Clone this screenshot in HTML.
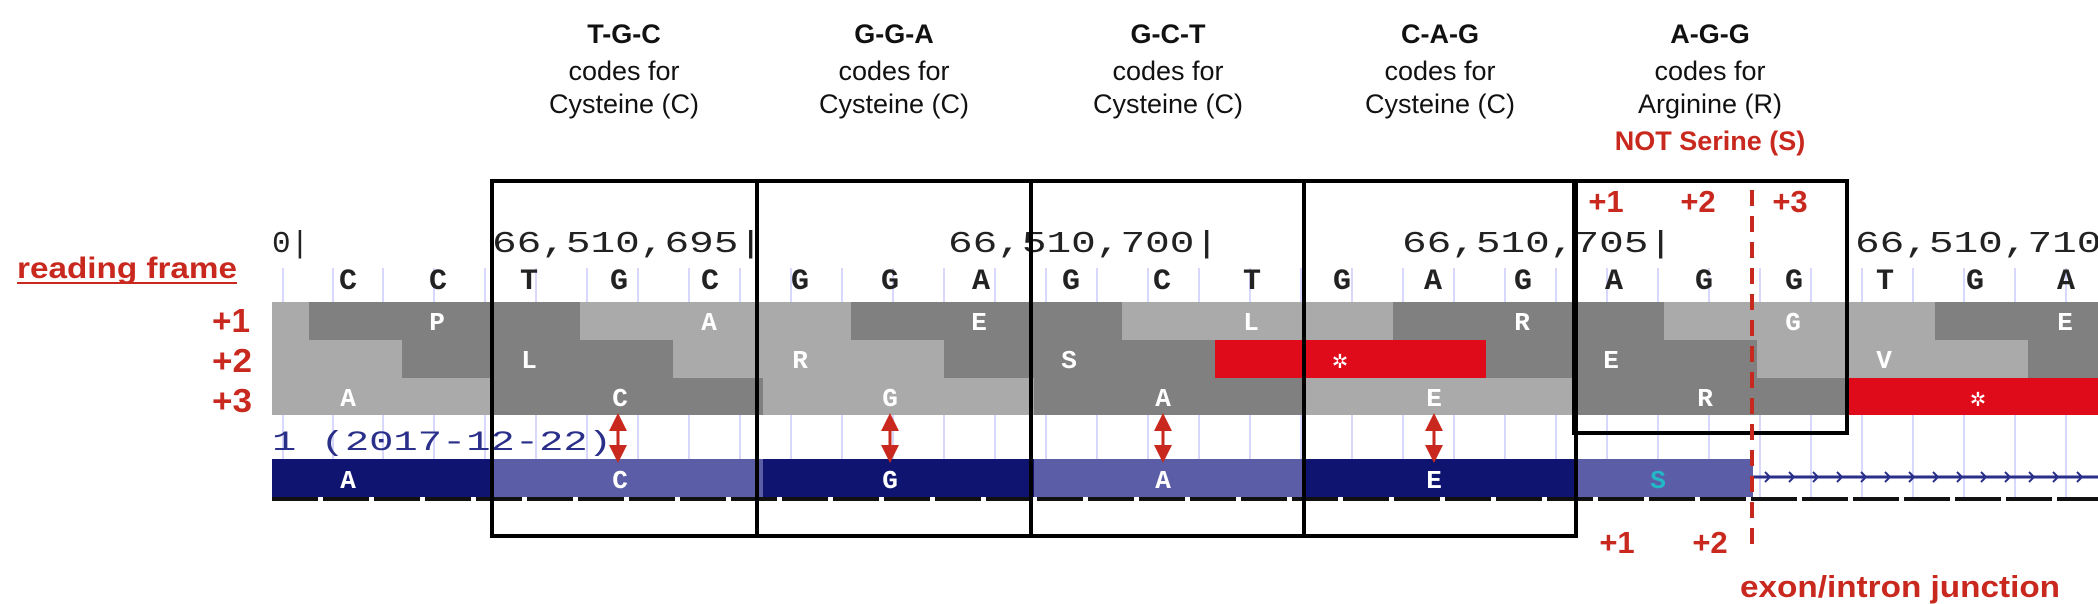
<!DOCTYPE html>
<html><head><meta charset="utf-8"><style>
html,body{margin:0;padding:0;background:#fff;}
svg{display:block;}
.h{font-family:"Liberation Sans",sans-serif;font-size:27px;fill:#111;text-anchor:middle;}
.hb{font-weight:bold;}
.r{font-family:"Liberation Sans",sans-serif;font-weight:bold;fill:#c8281e;}
.m{font-family:"Liberation Mono",monospace;}
.aa{font-family:"Liberation Mono",monospace;font-size:26px;fill:#fff;text-anchor:middle;font-weight:bold;}
</style></head><body>
<svg width="2098" height="604" viewBox="0 0 2098 604" xmlns="http://www.w3.org/2000/svg">
<defs>
<marker id="ah" markerWidth="6" markerHeight="6" refX="3" refY="3" orient="auto-start-reverse"><path d="M0,0 L6,3 L0,6 z" fill="#c8281e"/></marker>
</defs>
<g class="h">
<text x="624" y="43" class="hb">T-G-C</text><text x="624" y="80">codes for</text><text x="624" y="113">Cysteine (C)</text>
<text x="894" y="43" class="hb">G-G-A</text><text x="894" y="80">codes for</text><text x="894" y="113">Cysteine (C)</text>
<text x="1168" y="43" class="hb">G-C-T</text><text x="1168" y="80">codes for</text><text x="1168" y="113">Cysteine (C)</text>
<text x="1440" y="43" class="hb">C-A-G</text><text x="1440" y="80">codes for</text><text x="1440" y="113">Cysteine (C)</text>
<text x="1710" y="43" class="hb">A-G-G</text><text x="1710" y="80">codes for</text><text x="1710" y="113">Arginine (R)</text>
</g>
<text x="1710" y="150" class="r" font-size="27" text-anchor="middle">NOT Serine (S)</text>

<g stroke="#d8d8ff" stroke-width="2">
<line x1="283" y1="268" x2="283" y2="500"/><line x1="333" y1="268" x2="333" y2="500"/><line x1="383" y1="268" x2="383" y2="500"/><line x1="434" y1="268" x2="434" y2="500"/><line x1="485" y1="268" x2="485" y2="500"/><line x1="536" y1="268" x2="536" y2="500"/><line x1="587" y1="268" x2="587" y2="500"/><line x1="638" y1="268" x2="638" y2="500"/><line x1="689" y1="268" x2="689" y2="500"/><line x1="740" y1="268" x2="740" y2="500"/><line x1="791" y1="268" x2="791" y2="500"/><line x1="842" y1="268" x2="842" y2="500"/><line x1="893" y1="268" x2="893" y2="500"/><line x1="944" y1="268" x2="944" y2="500"/><line x1="995" y1="268" x2="995" y2="500"/><line x1="1046" y1="268" x2="1046" y2="500"/><line x1="1097" y1="268" x2="1097" y2="500"/><line x1="1148" y1="268" x2="1148" y2="500"/><line x1="1199" y1="268" x2="1199" y2="500"/><line x1="1250" y1="268" x2="1250" y2="500"/><line x1="1301" y1="268" x2="1301" y2="500"/><line x1="1352" y1="268" x2="1352" y2="500"/><line x1="1403" y1="268" x2="1403" y2="500"/><line x1="1454" y1="268" x2="1454" y2="500"/><line x1="1505" y1="268" x2="1505" y2="500"/><line x1="1556" y1="268" x2="1556" y2="500"/><line x1="1607" y1="268" x2="1607" y2="500"/><line x1="1658" y1="268" x2="1658" y2="500"/><line x1="1709" y1="268" x2="1709" y2="500"/><line x1="1760" y1="268" x2="1760" y2="500"/><line x1="1811" y1="268" x2="1811" y2="500"/><line x1="1862" y1="268" x2="1862" y2="500"/><line x1="1913" y1="268" x2="1913" y2="500"/><line x1="1964" y1="268" x2="1964" y2="500"/><line x1="2015" y1="268" x2="2015" y2="500"/><line x1="2066" y1="268" x2="2066" y2="500"/>
</g>

<g class="m" font-size="31" fill="#222">
<text x="272" y="252">0|</text>
<text x="492" y="252" textLength="271" lengthAdjust="spacingAndGlyphs">66,510,695|</text>
<text x="948" y="252" textLength="271" lengthAdjust="spacingAndGlyphs">66,510,700|</text>
<text x="1402" y="252" textLength="271" lengthAdjust="spacingAndGlyphs">66,510,705|</text>
<text x="1855" y="252" textLength="271" lengthAdjust="spacingAndGlyphs">66,510,710|</text>
</g>
<g class="m" font-size="30" fill="#222" text-anchor="middle" font-weight="bold">
<text x="348" y="289">C</text><text x="438" y="289">C</text><text x="529" y="289">T</text><text x="619" y="289">G</text><text x="710" y="289">C</text><text x="800" y="289">G</text><text x="890" y="289">G</text><text x="981" y="289">A</text><text x="1071" y="289">G</text><text x="1162" y="289">C</text><text x="1252" y="289">T</text><text x="1342" y="289">G</text><text x="1433" y="289">A</text><text x="1523" y="289">G</text><text x="1614" y="289">A</text><text x="1704" y="289">G</text><text x="1794" y="289">G</text><text x="1885" y="289">T</text><text x="1975" y="289">G</text><text x="2066" y="289">A</text>
</g>

<g>
<rect x="272" y="302" width="1826" height="38" fill="#808080"/>
<rect x="272" y="302" width="37" height="38" fill="#aaa"/>
<rect x="580" y="302" width="271" height="38" fill="#aaa"/>
<rect x="1122" y="302" width="271" height="38" fill="#aaa"/>
<rect x="1664" y="302" width="271" height="38" fill="#aaa"/>

<rect x="272" y="340" width="1826" height="38" fill="#808080"/>
<rect x="272" y="340" width="130" height="38" fill="#aaa"/>
<rect x="673" y="340" width="271" height="38" fill="#aaa"/>
<rect x="1215" y="340" width="271" height="38" fill="#e00b1a"/>
<rect x="1757" y="340" width="271" height="38" fill="#aaa"/>

<rect x="272" y="378" width="1826" height="37" fill="#808080"/>
<rect x="272" y="378" width="220" height="37" fill="#aaa"/>
<rect x="763" y="378" width="271" height="37" fill="#aaa"/>
<rect x="1305" y="378" width="271" height="37" fill="#aaa"/>
<rect x="1847" y="378" width="251" height="37" fill="#e00b1a"/>
</g>
<g class="aa">
<text x="437" y="330">P</text><text x="709" y="330">A</text><text x="979" y="330">E</text><text x="1251" y="330">L</text><text x="1522" y="330">R</text><text x="1793" y="330">G</text><text x="2065" y="330">E</text>
<text x="529" y="368">L</text><text x="800" y="368">R</text><text x="1069" y="368">S</text><text x="1340" y="368">✲</text><text x="1611" y="368">E</text><text x="1884" y="368">V</text>
<text x="348" y="406">A</text><text x="620" y="406">C</text><text x="890" y="406">G</text><text x="1163" y="406">A</text><text x="1434" y="406">E</text><text x="1705" y="406">R</text><text x="1978" y="406">✲</text>
</g>

<text x="272" y="450" class="m" font-size="28" fill="#2a2f8a" textLength="340" lengthAdjust="spacingAndGlyphs">1 (2017-12-22)</text>

<rect x="272" y="459" width="1481" height="38" fill="#0f1470"/>
<rect x="492" y="459" width="271" height="38" fill="#5b5ea6"/>
<rect x="1034" y="459" width="271" height="38" fill="#5b5ea6"/>
<rect x="1576" y="459" width="177" height="38" fill="#5b5ea6"/>
<g class="aa">
<text x="348" y="488">A</text><text x="620" y="488">C</text><text x="890" y="488">G</text><text x="1163" y="488">A</text><text x="1434" y="488">E</text>
<text x="1658" y="488" fill="#22b8c8">S</text>
</g>
<line x1="1753" y1="477" x2="2098" y2="477" stroke="#2a2f8a" stroke-width="3"/>
<g stroke="#2a2f8a" stroke-width="2" fill="none">
<path d="M1765,472 l5,5 l-5,5 M1789,472 l5,5 l-5,5 M1813,472 l5,5 l-5,5 M1837,472 l5,5 l-5,5 M1861,472 l5,5 l-5,5 M1885,472 l5,5 l-5,5 M1909,472 l5,5 l-5,5 M1933,472 l5,5 l-5,5 M1957,472 l5,5 l-5,5 M1981,472 l5,5 l-5,5 M2005,472 l5,5 l-5,5 M2029,472 l5,5 l-5,5 M2053,472 l5,5 l-5,5 M2077,472 l5,5 l-5,5"/>
</g>
<line x1="272" y1="499" x2="2098" y2="499" stroke="#111" stroke-width="4" stroke-dasharray="46,5"/>

<g stroke="#c8281e" stroke-width="3" marker-start="url(#ah)" marker-end="url(#ah)">
<line x1="618" y1="422" x2="618" y2="454"/>
<line x1="890" y1="422" x2="890" y2="454"/>
<line x1="1163" y1="422" x2="1163" y2="454"/>
<line x1="1434" y1="422" x2="1434" y2="454"/>
</g>

<g fill="none" stroke="#000" stroke-width="4">
<rect x="492" y="181" width="265" height="355"/>
<rect x="757" y="181" width="274" height="355"/>
<rect x="1031" y="181" width="273" height="355"/>
<rect x="1304" y="181" width="272" height="355"/>
<rect x="1574" y="181" width="273" height="252"/>
</g>

<line x1="1752" y1="190" x2="1752" y2="552" stroke="#c8281e" stroke-width="4" stroke-dasharray="16,10"/>

<text x="17" y="278" class="r" font-size="30" textLength="220" lengthAdjust="spacingAndGlyphs">reading frame</text>
<line x1="17" y1="283" x2="237" y2="283" stroke="#c8281e" stroke-width="2"/>
<g class="r" font-size="33">
<text x="212" y="332" textLength="38" lengthAdjust="spacingAndGlyphs">+1</text><text x="212" y="372" textLength="40" lengthAdjust="spacingAndGlyphs">+2</text><text x="212" y="412" textLength="40" lengthAdjust="spacingAndGlyphs">+3</text>
</g>
<g class="r" font-size="31" text-anchor="middle">
<text x="1606" y="212">+1</text><text x="1698" y="212">+2</text><text x="1790" y="212">+3</text>
<text x="1617" y="553">+1</text><text x="1710" y="553">+2</text>
</g>
<text x="1740" y="597" class="r" font-size="31" textLength="320" lengthAdjust="spacingAndGlyphs">exon/intron junction</text>
</svg>
</body></html>
